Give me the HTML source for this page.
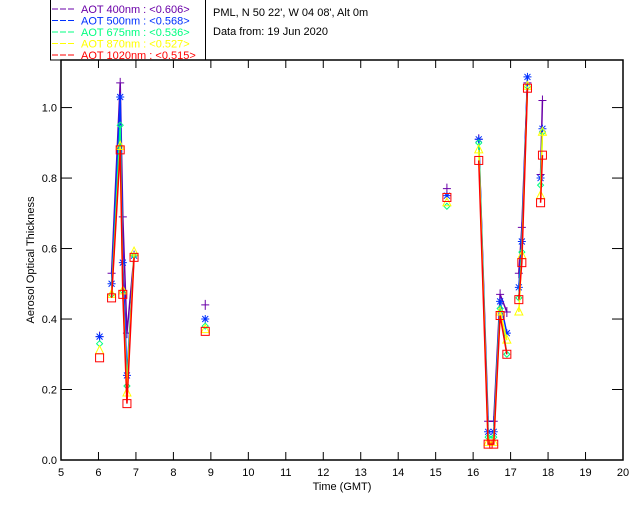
<!DOCTYPE html>
<html><head><meta charset="utf-8"><style>
body{margin:0;background:#fff;}
svg{display:block;font-family:"Liberation Sans",sans-serif;}
</style></head><body>
<svg id="chart" width="640" height="512" viewBox="0 0 640 512" xmlns="http://www.w3.org/2000/svg">
<rect x="0" y="0" width="640" height="512" fill="#fff"/>
<g id="legend">
<rect x="50.5" y="-1" width="155" height="61" fill="none" stroke="#000" stroke-width="1"/>
</g>
<text x="213" y="16" font-size="11">PML, N 50 22', W 04 08', Alt 0m</text>
<text x="213" y="35" font-size="11">Data from: 19 Jun 2020</text>
<g id="axes"></g>
<g id="plot"></g>
<text x="342" y="490" font-size="11" text-anchor="middle">Time (GMT)</text>
<text x="0" y="0" font-size="11" text-anchor="middle" transform="translate(34,260) rotate(-90)">Aerosol Optical Thickness</text>
</svg>
<script>
const times = [6.03,6.35,6.58,6.65,6.76,6.95,8.85,15.3,16.15,16.4,16.55,16.72,16.9,17.22,17.3,17.45,17.8,17.85];
const aot400  = [0.35,0.53,1.07,0.69,0.36,0.58,0.44,0.77,0.91,0.11,0.11,0.47,0.42,0.53,0.66,1.07,0.81,1.02];
const aot500  = [0.35,0.50,1.03,0.56,0.24,0.58,0.40,0.75,0.91,0.08,0.08,0.45,0.36,0.49,0.62,1.087,0.80,0.94];
const aot675  = [0.33,0.47,0.95,0.48,0.21,0.58,0.38,0.72,0.90,0.065,0.065,0.43,0.30,0.46,0.59,1.06,0.78,0.93];
const aot870  = [0.31,0.47,0.89,0.48,0.19,0.59,0.37,0.73,0.88,0.05,0.05,0.42,0.34,0.42,0.58,1.06,0.75,0.93];
const aot1020 = [0.29,0.46,0.88,0.47,0.16,0.575,0.365,0.745,0.85,0.045,0.045,0.41,0.30,0.455,0.56,1.055,0.73,0.865];
const xTicks = [5,6,7,8,9,10,11,12,13,14,15,16,17,18,19,20];
const yTicks = [0.0,0.2,0.4,0.6,0.8,1.0];
const legendLabels = ["AOT  400nm : <0.606>","AOT  500nm : <0.568>","AOT  675nm : <0.536>","AOT  870nm : <0.527>","AOT 1020nm : <0.515>"];

const NS="http://www.w3.org/2000/svg";
const L=61,R=623,T=60,B=460, YMAX=1.135;
const xs=t=>L+(t-5)/15*(R-L);
const ys=v=>B-v/YMAX*(B-T);
function mk(tag,attrs,parent){const e=document.createElementNS(NS,tag);for(const k in attrs)e.setAttribute(k,attrs[k]);parent.appendChild(e);return e;}
const axes=document.getElementById('axes'), plot=document.getElementById('plot'), legend=document.getElementById('legend');
const frame=mk('rect',{x:L,y:T,width:R-L,height:B-T,fill:'none',stroke:'#000','stroke-width':1.5},axes);


xTicks.forEach(t=>{
  const x=xs(t);
  const a=mk('line',{x1:x,x2:x,y1:B,y2:B-8,stroke:'#000'},axes);
  
  
  const b=mk('line',{x1:x,x2:x,y1:T,y2:T+8,stroke:'#000'},axes);
  
  
  const tx=mk('text',{x:x,y:B+16,'font-size':11,'text-anchor':'middle'},axes);tx.textContent=t;
  
  
});
yTicks.forEach(v=>{
  const y=ys(v);
  const a=mk('line',{x1:L,x2:L+11,y1:y,y2:y,stroke:'#000'},axes);
  
  
  const b=mk('line',{x1:R,x2:R-11,y1:y,y2:y,stroke:'#000'},axes);
  
  
  const tx=mk('text',{x:L-4,y:y+4,'font-size':11,'text-anchor':'end'},axes);tx.textContent=v.toFixed(1);
  
  
});
const series=[aot400,aot500,aot675,aot870,aot1020];
const colors=['#6a00a8','#0030ff','#00ff80','#ffff00','#ff0000'];
const names=['400','500','675','870','1020'];
function marker(k,x,y,c,g){
  const s={stroke:c,fill:'none','stroke-width':1};
  if(k==0){mk('path',Object.assign({d:`M${x-4},${y}H${x+4}M${x},${y-5}V${y+5}`},s),g);}
  else if(k==1){mk('path',Object.assign({d:`M${x-4},${y}H${x+4}M${x},${y-4}V${y+4}M${x-3},${y-3}L${x+3},${y+3}M${x-3},${y+3}L${x+3},${y-3}`,'stroke-width':1.5},s),g);}
  else if(k==2){mk('path',Object.assign({d:`M${x},${y-3}L${x+3},${y}L${x},${y+3}L${x-3},${y}Z`},s),g);}
  else if(k==3){mk('path',Object.assign({d:`M${x},${y-5}L${x+4},${y+3}L${x-4},${y+3}Z`},s),g);}
  else {mk('rect',Object.assign({x:x-4,y:y-4,width:8,height:8,'stroke-width':1.5},s),g);}
}
series.forEach((vals,k)=>{
  const g=mk('g',{},plot);
  
  
  let d='';
  for(let i=0;i<times.length;i++){
    const x=xs(times[i]),y=ys(vals[i]);
    if(i>0 && times[i]-times[i-1]<0.3) d+=`L${x},${y}`; else d+=`M${x},${y}`;
  }
  const p=mk('path',{d:d,stroke:colors[k],fill:'none','stroke-width':1.5},g);
  
  
  for(let i=0;i<times.length;i++) marker(k,xs(times[i]),ys(vals[i]),colors[k],g);
  const ly=9+k*11.5;
  const ll=mk('line',{x1:52,x2:76,y1:ly,y2:ly,stroke:colors[k],'stroke-dasharray':'6,2'},legend);
  
  
  const lt=mk('text',{x:81,y:ly+4,'font-size':11,fill:colors[k],'xml:space':'preserve'},legend);
  lt.textContent=legendLabels[k];
  
  
});
</script>
</body></html>
